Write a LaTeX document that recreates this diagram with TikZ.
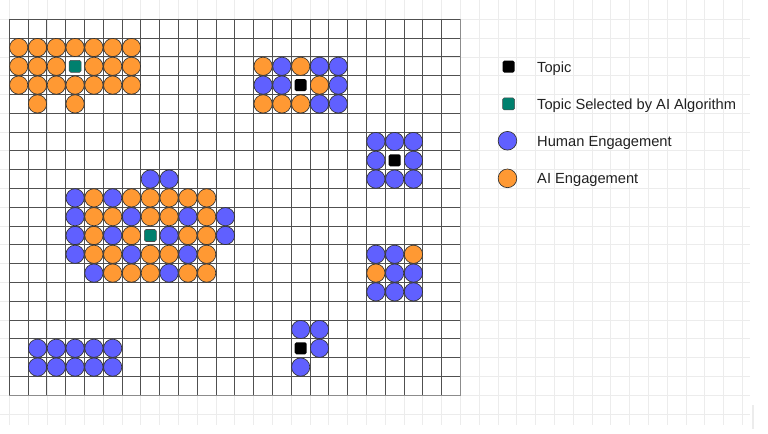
\documentclass[tikz,border=0pt]{standalone}
\usepackage{fontspec}
\setmainfont{Liberation Sans}
\usetikzlibrary{positioning}
\definecolor{humanblue}{RGB}{96, 96, 255}
\definecolor{aiorange}{RGB}{255, 153, 51}
\definecolor{pickteal}{RGB}{0, 128, 110}
\definecolor{cellink}{RGB}{80, 80, 80}
\definecolor{paperink}{RGB}{236, 236, 236}
\definecolor{keyink}{RGB}{33, 33, 33}

\begin{document}
\begin{tikzpicture}[x=14.1pt, y=-14.1pt, every node/.style={inner sep=0pt, font=\fontsize{11}{13}\selectfont}]
    \tikzstyle{human} = [circle, draw=black!80, fill=humanblue, line width=0.5pt, minimum size=13.7pt]
    \tikzstyle{ai} = [circle, draw=black!80, fill=aiorange, line width=0.5pt, minimum size=13.7pt]
    \tikzstyle{topic} = [rectangle, fill=black, rounded corners=1.2pt, minimum size=9pt]
    \tikzstyle{picked} = [rectangle, draw=black!70, fill=pickteal, rounded corners=1.2pt, line width=0.4pt, minimum size=9pt]
    \tikzstyle{keytext} = [anchor=base west, text=keyink]
    \tikzstyle{paper} = [draw=paperink, line width=0.6pt]
    \tikzstyle{cell} = [draw=cellink, line width=0.65pt]

    % Page and background grid
    \useasboundingbox (-0.495,-1.027) rectangle (40.36,22.06);
    \fill[white] (-0.495,-1.027) rectangle (40.36,22.06);
    \foreach \i in {0,...,39} \draw[paper] (\i,-1.03) -- (\i,21.58);
    \foreach \j in {0,...,21} \draw[paper] (-0.5,\j) -- (39.4,\j);
    \fill[paperink] (39.5,20.52) rectangle (39.6,21.79);

    % Topic board
    \foreach \i in {0,...,24} \draw[cell] (\i,0) -- (\i,20);
    \foreach \j in {0,...,20} \draw[cell] (0,\j) -- (24,\j);
    \draw[draw=black!45, line width=1pt] (24,0) -- (24,20) -- (0,20);

    % AI Engagement
    \foreach \c/\r in {0/1,1/1,2/1,3/1,4/1,5/1,6/1, 0/2,1/2,2/2,4/2,5/2,6/2, 0/3,1/3,2/3,3/3,4/3,5/3,6/3, 1/4,3/4,
                       13/2,15/2,16/3,13/4,14/4,15/4, 21/12,19/13,
                       4/9,6/9,7/9,8/9,9/9,10/9, 4/10,5/10,7/10,8/10,10/10, 4/11,6/11,9/11,10/11,
                       4/12,5/12,7/12,8/12,10/12, 5/13,6/13,7/13,9/13,10/13}
        \node[ai] (ai-\c-\r) at ({\c+0.5},{\r+0.5}) {};

    % Human Engagement
    \foreach \c/\r in {14/2,16/2,17/2,13/3,14/3,17/3,16/4,17/4,
                       19/6,20/6,21/6,19/7,21/7,19/8,20/8,21/8,
                       19/12,20/12,20/13,21/13,19/14,20/14,21/14,
                       7/8,8/8, 3/9,5/9, 3/10,6/10,9/10,11/10, 3/11,5/11,8/11,11/11, 3/12,6/12,9/12, 4/13,8/13,
                       1/17,2/17,3/17,4/17,5/17, 1/18,2/18,3/18,4/18,5/18,
                       15/16,16/16,16/17,15/18}
        \node[human] (hu-\c-\r) at ({\c+0.5},{\r+0.5}) {};

    % Topics
    \foreach \c/\r in {15/3,20/7,15/17}
        \node[topic] (topic-\c-\r) at ({\c+0.5},{\r+0.5}) {};
    \foreach \c/\r in {3/2,7/11}
        \node[picked] (picked-\c-\r) at ({\c+0.5},{\r+0.5}) {};

    % Legend
    \node[topic] (keyTopic) at (26.56,2.52) {};
    \node[picked] (keyPicked) at (26.56,4.5) {};
    \node[human, minimum size=14pt] (keyHuman) at (26.5,6.46) {};
    \node[ai, minimum size=14pt] (keyAI) at (26.5,8.46) {};
    \node[keytext] (lblTopic) at (28.07,2.81) {Topic};
    \node[keytext] (lblPicked) at (28.07,4.79) {Topic Selected by AI Algorithm};
    \node[keytext] (lblHuman) at (28.07,6.75) {Human Engagement};
    \node[keytext] (lblAI) at (28.07,8.75) {AI Engagement};
\end{tikzpicture}
\end{document}
